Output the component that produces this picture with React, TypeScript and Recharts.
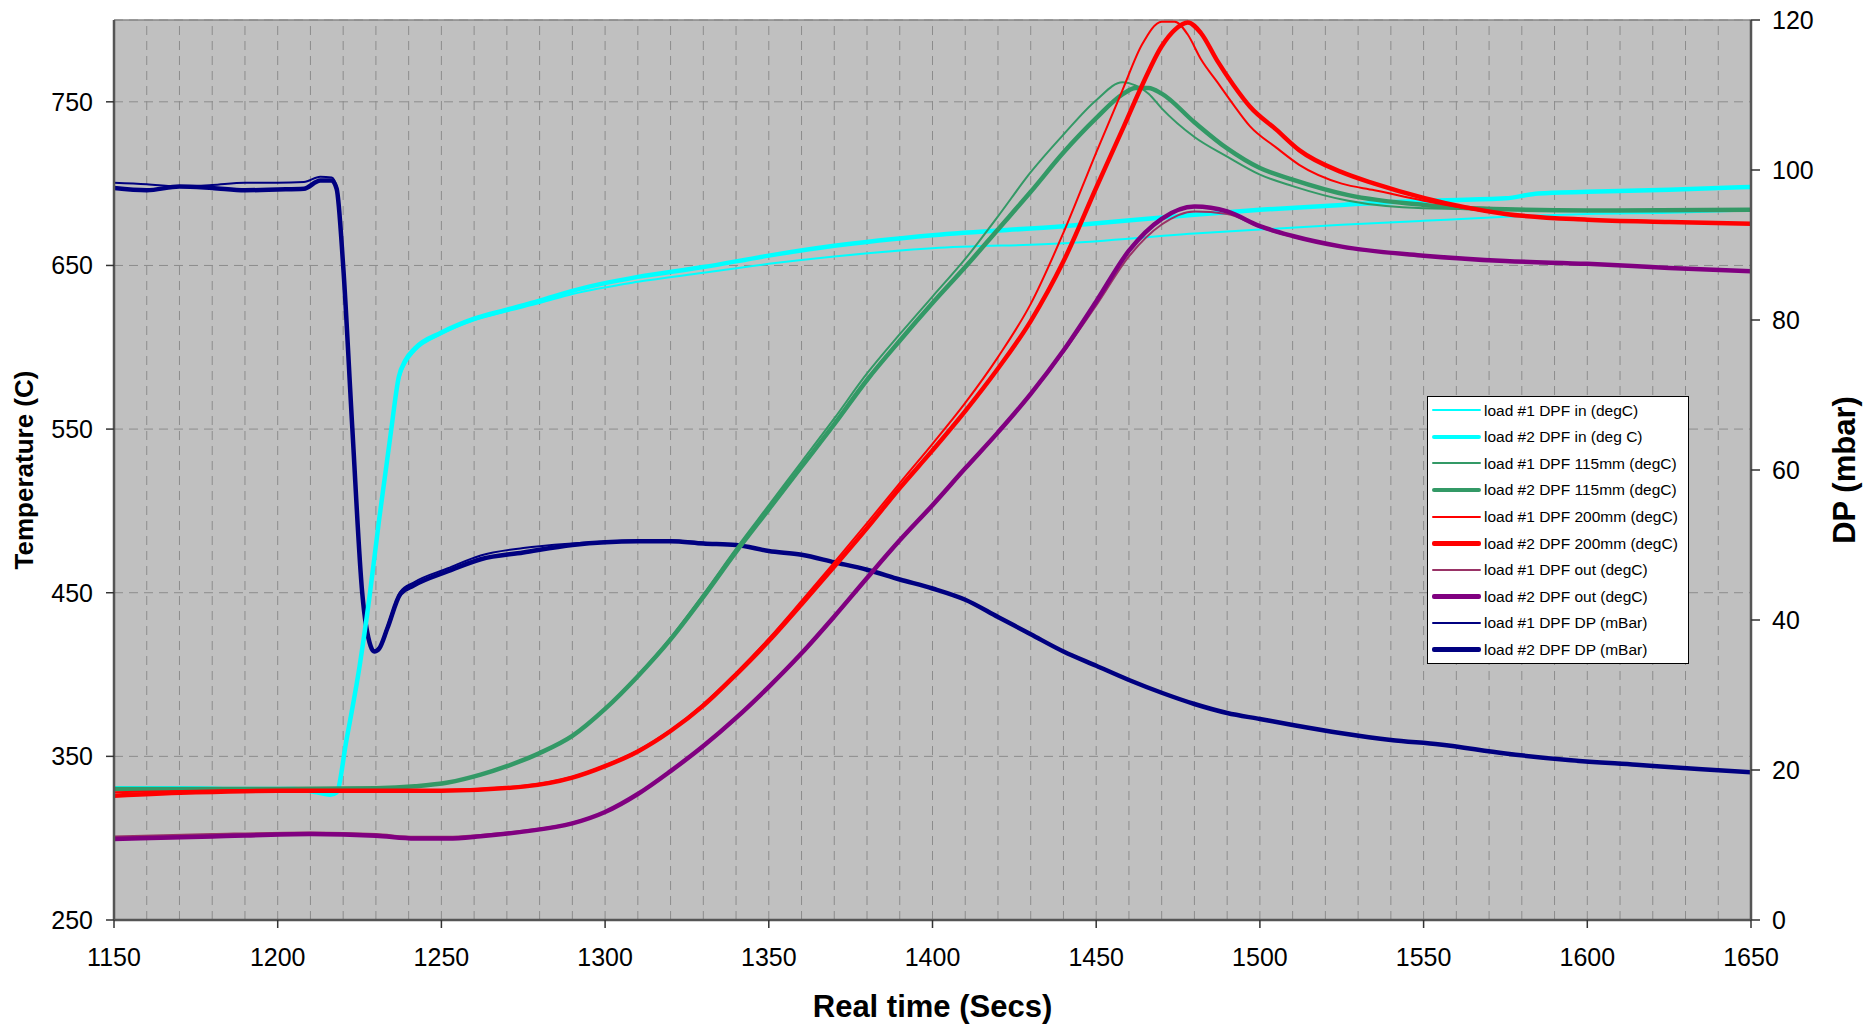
import { LineChart, Line, XAxis, YAxis, CartesianGrid, ReferenceLine, Legend } from "recharts";

// axis ticks / grid values
const xTicks = [1150, 1200, 1250, 1300, 1350, 1400, 1450, 1500, 1550, 1600, 1650];
const minorX = [1160, 1170, 1180, 1190, 1200, 1210, 1220, 1230, 1240, 1250, 1260, 1270, 1280, 1290, 1300, 1310, 1320, 1330, 1340, 1350, 1360, 1370, 1380, 1390, 1400, 1410, 1420, 1430, 1440, 1450, 1460, 1470, 1480, 1490, 1500, 1510, 1520, 1530, 1540, 1550, 1560, 1570, 1580, 1590, 1600, 1610, 1620, 1630, 1640];
const tempTicks = [250, 350, 450, 550, 650, 750];
const dpTicks = [0, 20, 40, 60, 80, 100, 120];

// DPF inlet temperature (degC)
const inTime = [1150, 1170, 1190, 1205, 1212, 1216, 1218, 1221, 1225, 1228, 1231, 1234.5, 1237, 1239, 1242, 1250, 1260, 1270, 1280, 1290, 1310, 1330, 1350, 1370, 1400, 1440, 1480, 1500, 1525, 1550, 1575, 1585, 1600, 1625, 1650];
const inLoad1 = [331, 331, 330.5, 330.5, 328.5, 327, 328.5, 358, 403, 445, 493, 545, 580, 590, 598, 608, 616.5, 622, 627, 632.5, 640, 645.5, 651, 655.5, 660.5, 663.5, 669.5, 672, 674.8, 677.3, 679.7, 680.5, 681.5, 682.2, 683.6];
const inLoad2 = [330.5, 330.5, 330, 330, 328, 326.5, 328, 360, 405, 447, 495, 547, 582, 592, 599.5, 609, 617.5, 623, 628.5, 634.5, 643, 649, 656, 662, 668.5, 674, 681, 684, 687, 689.5, 691, 694, 695, 696.3, 698];

// DPF 115mm temperature (degC)
const midTime = [1150, 1200, 1230, 1242, 1252, 1262, 1270, 1280, 1290, 1300, 1310, 1320, 1330, 1340, 1350, 1360, 1370, 1380, 1390, 1400, 1410, 1420, 1430, 1440, 1450, 1458, 1462, 1466, 1470, 1480, 1490, 1500, 1510, 1527, 1550, 1575, 1600, 1650];
const midLoad1 = [330, 330, 330.5, 331.7, 334, 338.8, 344, 352, 362.5, 379, 399.5, 422.5, 449, 477, 503.5, 530, 556.5, 584, 608, 631, 654, 680, 707, 730, 751, 762, 760, 755, 746, 728.5, 716.5, 705.5, 698.5, 689.5, 685, 684.3, 683.6, 684];
const midLoad2 = [330, 330, 330.5, 331.7, 334, 338.8, 344, 352, 362.5, 379, 399, 421.5, 447.5, 475, 501, 527, 553, 580, 604, 627, 649, 672, 695, 719, 740, 754.5, 758.5, 758.5, 755, 737.5, 721.5, 709.5, 702.5, 693, 687, 684.3, 683.6, 684];

// DPF 200mm temperature (degC)
const rearTime = [1150, 1175, 1200, 1250, 1275, 1290, 1300, 1310, 1320, 1330, 1340, 1350, 1360, 1370, 1380, 1390, 1400, 1410, 1420, 1430, 1440, 1450, 1458, 1464, 1470, 1474, 1478, 1482, 1487, 1492, 1497, 1505, 1512, 1525, 1535, 1550, 1575, 1600, 1625, 1650];
const rearLoad1 = [328, 329, 329.5, 329.5, 332, 337.5, 344.5, 353.5, 366, 382, 401, 422, 445, 468.5, 492.5, 517, 541, 566, 594, 626.5, 670, 719, 757, 785, 799, 799, 791, 776, 762, 748, 735, 722, 711.5, 700, 696, 689.6, 681.5, 678, 676.6, 675.5];
const rearLoad2 = [326, 328, 329, 329, 331.5, 337, 344, 353, 365.5, 381, 400, 420.5, 443, 466, 489.5, 514, 537, 561, 587, 616, 652.5, 697.5, 733, 760, 784, 794, 798.5, 792, 775, 760, 747, 733, 720.5, 707, 700, 691.3, 681.5, 678, 676.6, 675.5];

// DPF outlet temperature (degC)
const outTime = [1150, 1180, 1210, 1230, 1242, 1252, 1262, 1275, 1290, 1300, 1310, 1320, 1330, 1340, 1350, 1360, 1370, 1380, 1390, 1400, 1410, 1420, 1430, 1440, 1450, 1460, 1470, 1480, 1490, 1500, 1510, 1525, 1550, 1575, 1600, 1625, 1650];
const outLoad1 = [301, 302.5, 303.5, 302.5, 300.8, 300.8, 302, 304.5, 309.5, 316, 327, 341, 356, 373, 392, 412.5, 435, 458.5, 481.5, 503, 525.5, 547.5, 571, 597, 625.5, 655.5, 675, 683, 681.5, 673.5, 667.5, 661.5, 656, 652.7, 651, 648.5, 646.4];
const outLoad2 = [299.5, 301, 302.5, 301.5, 299.8, 299.8, 301.2, 304, 309, 316, 327, 341, 356.3, 373.5, 392.5, 413, 435.5, 459, 482, 503.5, 526, 548, 571.5, 598, 628, 659, 678.5, 686, 683, 674, 668, 661.5, 656, 652.7, 651, 648.5, 646.4];

// DPF pressure drop (mBar)
const dpTime = [1150, 1160, 1170, 1180, 1190, 1200, 1208, 1213, 1216.5, 1218, 1220, 1222.8, 1225.8, 1228.4, 1229.5, 1231, 1233.5, 1237.5, 1241.5, 1252, 1262, 1275, 1290, 1310, 1320, 1330, 1340, 1350, 1360, 1370, 1380, 1390, 1400, 1410, 1420, 1430, 1440, 1450, 1460, 1470, 1480, 1490, 1500, 1510, 1525, 1540, 1555, 1575, 1595, 1615, 1635, 1650];
const dpLoad1 = [98.3, 98.1, 97.8, 98.0, 98.3, 98.3, 98.4, 99.1, 99.0, 97.8, 87.5, 65.8, 44, 36.7, 35.9, 36.3, 39.2, 43.8, 45.0, 46.9, 48.6, 49.6, 50.2, 50.6, 50.6, 50.3, 50.0, 49.2, 48.7, 47.7, 46.7, 45.4, 44.2, 42.7, 40.4, 38.1, 35.8, 33.9, 32.0, 30.3, 28.8, 27.6, 26.8, 26.0, 24.9, 24.0, 23.4, 22.2, 21.3, 20.7, 20.1, 19.7];
const dpLoad2 = [97.6, 97.3, 97.8, 97.6, 97.3, 97.4, 97.5, 98.6, 98.6, 97.5, 87.2, 65.5, 43.7, 36.5, 35.8, 36.2, 38.9, 43.5, 44.6, 46.5, 48.1, 49.0, 50.0, 50.5, 50.5, 50.2, 50.0, 49.2, 48.7, 47.7, 46.7, 45.4, 44.2, 42.7, 40.4, 38.1, 35.8, 33.9, 32.0, 30.3, 28.8, 27.6, 26.8, 26.0, 24.9, 24.0, 23.4, 22.2, 21.3, 20.7, 20.1, 19.7];

const toPoints = (times: number[], values: number[]) => times.map((t, i) => ({ t, v: values[i] }));

const series = [
  { name: "load #1 DPF in (degC)", color: "#00FFFF", width: 2, axis: "left", data: toPoints(inTime, inLoad1) },
  { name: "load #2 DPF in (deg C)", color: "#00FFFF", width: 4.5, axis: "left", data: toPoints(inTime, inLoad2) },
  { name: "load #1 DPF 115mm (degC)", color: "#339966", width: 2, axis: "left", data: toPoints(midTime, midLoad1) },
  { name: "load #2 DPF 115mm (degC)", color: "#339966", width: 4.5, axis: "left", data: toPoints(midTime, midLoad2) },
  { name: "load #1 DPF 200mm (degC)", color: "#FF0000", width: 2, axis: "left", data: toPoints(rearTime, rearLoad1) },
  { name: "load #2 DPF 200mm (degC)", color: "#FF0000", width: 4.5, axis: "left", data: toPoints(rearTime, rearLoad2) },
  { name: "load #1 DPF out (degC)", color: "#993366", width: 2, axis: "left", data: toPoints(outTime, outLoad1) },
  { name: "load #2 DPF out (degC)", color: "#800080", width: 4.5, axis: "left", data: toPoints(outTime, outLoad2) },
  { name: "load #1 DPF DP (mBar)", color: "#000080", width: 2, axis: "right", data: toPoints(dpTime, dpLoad1) },
  { name: "load #2 DPF DP (mBar)", color: "#000080", width: 4.5, axis: "right", data: toPoints(dpTime, dpLoad2) },
];

// pressure lines sit underneath the temperature traces
const drawOrder = [...series.filter((s) => s.axis === "right"), ...series.filter((s) => s.axis === "left")];

const FONT = '"Liberation Sans", Arial, sans-serif';

function VerticalTitle({ viewBox, text, cx, size }: any) {
  const y = (viewBox?.y ?? 20) + (viewBox?.height ?? 900) / 2;
  return (
    <text
      x={cx}
      y={y}
      transform={`rotate(-90, ${cx}, ${y})`}
      textAnchor="middle"
      dominantBaseline="central"
      fontSize={size}
      fontWeight="bold"
      fill="#000"
      fontFamily={FONT}
    >
      {text}
    </text>
  );
}

function LegendBox() {
  return (
    <div
      style={{
        width: 260,
        height: 266,
        background: "#fff",
        border: "1px solid #000",
        fontFamily: FONT,
        fontSize: 15.5,
        color: "#000",
      }}
    >
      {series.map((s) => (
        <div key={s.name} style={{ display: "flex", alignItems: "center", height: 26.6 }}>
          <div style={{ width: 49, height: s.width, background: s.color, marginLeft: 4, marginRight: 3, borderRadius: 2 }} />
          <span style={{ whiteSpace: "nowrap", lineHeight: 1 }}>{s.name}</span>
        </div>
      ))}
    </div>
  );
}

export default function App() {
  const tickStyle = { fontSize: 25, fill: "#000", fontFamily: FONT };
  const axisLine = { stroke: "#555", strokeWidth: 2.5 };
  const tickLine = { stroke: "#333", strokeWidth: 1.5 };

  return (
    <div style={{ position: "absolute", top: 0, left: 0, width: 1863, height: 1024, background: "#fff" }}>
      <LineChart width={1863} height={1024} margin={{ top: 20, right: 0, bottom: 0, left: 0 }} style={{ fontFamily: FONT }}>
        <CartesianGrid
          yAxisId="left"
          vertical={false}
          stroke="#8c8c8c"
          strokeDasharray="9 6"
          fill="#c0c0c0"
          fillOpacity={1}
        />
        <XAxis
          dataKey="t"
          type="number"
          domain={[1150, 1650]}
          ticks={xTicks}
          allowDataOverflow
          height={104}
          tick={tickStyle}
          tickSize={8}
          tickMargin={20}
          axisLine={axisLine}
          tickLine={tickLine}
          label={{ value: "Real time (Secs)", position: "insideBottom", offset: 7, fontSize: 31, fontWeight: "bold", fill: "#000" }}
        />
        <YAxis
          yAxisId="left"
          type="number"
          domain={[250, 800]}
          ticks={tempTicks}
          allowDataOverflow
          width={114}
          tick={tickStyle}
          tickSize={8}
          tickMargin={13}
          axisLine={axisLine}
          tickLine={tickLine}
          label={<VerticalTitle text="Temperature (C)" cx={24} size={26} />}
        />
        <YAxis
          yAxisId="right"
          orientation="right"
          type="number"
          domain={[0, 120]}
          ticks={dpTicks}
          allowDataOverflow
          width={112}
          tick={tickStyle}
          tickSize={9}
          tickMargin={12}
          axisLine={axisLine}
          tickLine={tickLine}
          label={<VerticalTitle text="DP (mbar)" cx={1844} size={31} />}
        />
        {minorX.map((v) => (
          <ReferenceLine key={`gx-${v}`} yAxisId="left" x={v} stroke="#8c8c8c" strokeDasharray="9 6" />
        ))}
        <ReferenceLine yAxisId="left" y={800} stroke="#888" strokeWidth={1.5} />
        {drawOrder.map((s) => (
          <Line
            key={s.name}
            yAxisId={s.axis}
            data={s.data}
            dataKey="v"
            name={s.name}
            type="monotone"
            stroke={s.color}
            strokeWidth={s.width}
            dot={false}
            activeDot={false}
            isAnimationActive={false}
          />
        ))}
        <Legend
          layout="vertical"
          align="center"
          verticalAlign="middle"
          content={() => <LegendBox />}
          wrapperStyle={{ left: 1427, top: 396, width: 262, height: 268 }}
        />
      </LineChart>
    </div>
  );
}
